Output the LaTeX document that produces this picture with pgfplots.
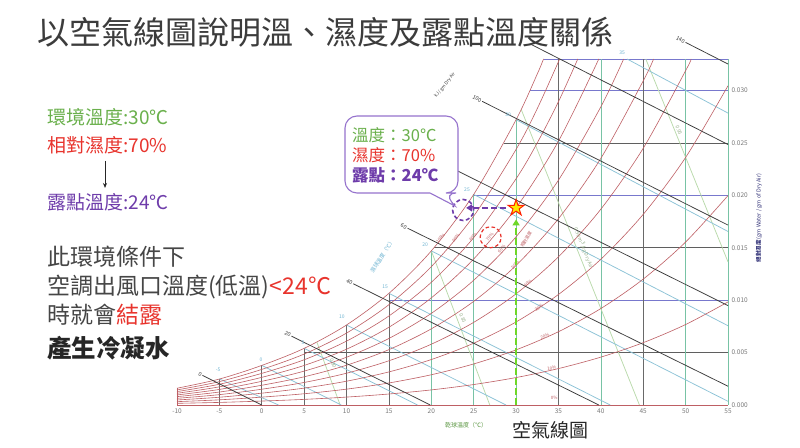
\documentclass[border=0pt]{standalone}
\usepackage{fontspec}
\usepackage{pgfplots}
\pgfplotsset{compat=1.18}
\usetikzlibrary{arrows.meta}
\setmainfont{Noto Sans CJK TC}

\definecolor{rhred}{RGB}{190,95,100}
\definecolor{enth}{RGB}{60,60,60}
\definecolor{wbblue}{RGB}{140,195,215}
\definecolor{wbtext}{RGB}{110,180,210}
\definecolor{volgreen}{RGB}{185,218,170}
\definecolor{vteal}{RGB}{120,195,165}
\definecolor{vgray}{RGB}{105,105,105}
\definecolor{hblue}{RGB}{120,120,205}
\definecolor{hgray}{RGB}{95,95,95}
\definecolor{ticgray}{RGB}{120,120,120}
\definecolor{txtgreen}{RGB}{106,176,76}
\definecolor{txtred}{RGB}{232,52,45}
\definecolor{txtpurple}{RGB}{110,60,170}
\definecolor{boxpurple}{RGB}{150,115,205}
\definecolor{titlegray}{RGB}{60,60,60}
\definecolor{darktxt}{RGB}{70,70,70}
\definecolor{arrgreen}{RGB}{110,215,40}
\definecolor{navy}{RGB}{50,50,120}

\pgfdeclareplotmark{fstar}{%
  \pgfpathmoveto{\pgfpoint{0pt}{1\pgfplotmarksize}}%
  \pgfpathlineto{\pgfpoint{-0.2245\pgfplotmarksize}{0.3090\pgfplotmarksize}}%
  \pgfpathlineto{\pgfpoint{-0.9511\pgfplotmarksize}{0.3090\pgfplotmarksize}}%
  \pgfpathlineto{\pgfpoint{-0.3633\pgfplotmarksize}{-0.1180\pgfplotmarksize}}%
  \pgfpathlineto{\pgfpoint{-0.5878\pgfplotmarksize}{-0.8090\pgfplotmarksize}}%
  \pgfpathlineto{\pgfpoint{0pt}{-0.382\pgfplotmarksize}}%
  \pgfpathlineto{\pgfpoint{0.5878\pgfplotmarksize}{-0.8090\pgfplotmarksize}}%
  \pgfpathlineto{\pgfpoint{0.3633\pgfplotmarksize}{-0.1180\pgfplotmarksize}}%
  \pgfpathlineto{\pgfpoint{0.9511\pgfplotmarksize}{0.3090\pgfplotmarksize}}%
  \pgfpathlineto{\pgfpoint{0.2245\pgfplotmarksize}{0.3090\pgfplotmarksize}}%
  \pgfpathclose
  \pgfusepathqfillstroke}

\pgfplotsset{
  rh/.style={rhred, line width=0.6pt, smooth},
  en/.style={enth, line width=0.75pt},
  wb/.style={wbblue, line width=0.75pt},
  vol/.style={volgreen, line width=0.75pt},
  vg/.style={vgray, line width=0.7pt},
  vt/.style={vteal, line width=0.7pt},
  hb/.style={hblue, line width=0.75pt},
  hg/.style={hgray, line width=0.75pt},
}

\begin{document}
\begin{tikzpicture}[x=1pt,y=1pt]
\useasboundingbox (0,0) rectangle (800,447);
\fill[white] (0,0) rectangle (800,447);

% title
\node[anchor=west, inner sep=0, text=titlegray, font=\fontsize{32}{34}\selectfont] at (37,415) {以空氣線圖說明溫、濕度及露點溫度關係};

% left texts
\node[anchor=west, inner sep=0, text=txtgreen, font=\fontsize{19}{21}\selectfont] at (47,330) {環境溫度:30℃};
\node[anchor=west, inner sep=0, text=txtred, font=\fontsize{19}{21}\selectfont] at (47,302) {相對濕度:70\%};
\draw[-{Stealth[length=5pt,width=4pt]}, line width=1pt, black!85] (105,286) -- (105,259);
\node[anchor=west, inner sep=0, text=txtpurple, font=\fontsize{19}{21}\selectfont] at (47,245) {露點溫度:24℃};
\node[anchor=west, inner sep=0, text=darktxt, font=\fontsize{23}{25}\selectfont] at (47,190) {此環境條件下};
\node[anchor=west, inner sep=0, text=darktxt, font=\fontsize{23}{25}\selectfont] at (47,160) {空調出風口溫度(低溫)\textcolor{txtred}{<24℃}};
\node[anchor=west, inner sep=0, text=darktxt, font=\fontsize{23}{25}\selectfont] at (47,132) {時就會\textcolor{txtred}{結露}};
\node[anchor=west, inner sep=0, text=black!85, font=\fontsize{24.5}{26}\selectfont\bfseries] at (47,99) {產生冷凝水};

\begin{axis}[at={(177pt,42pt)}, anchor=south west, scale only axis,
  width=551pt, height=346pt,
  xmin=-10, xmax=55, ymin=0, ymax=0.033, clip=false,
  axis line style={draw=none}, major tick length=0pt,
  xtick={-10,-5,0,5,10,15,20,25,30,35,40,45,50,55},
  xticklabels={-10,-5,0,5,10,15,20,25,30,35,40,45,50,55},
  ytick={0,0.005,0.01,0.015,0.02,0.025,0.03},
  yticklabels={0.000,0.005,0.010,0.015,0.020,0.025,0.030},
  yticklabel pos=right, scaled y ticks=false,
  tick label style={font=\fontsize{6.5}{7}\selectfont, text=ticgray},
]
% horizontal grid
\addplot[hg] coordinates {(5,0.005) (55,0.005)};
\addplot[hb] coordinates {(15,0.010) (55,0.010)};
\addplot[hg] coordinates {(20.3,0.015) (55,0.015)};
\addplot[hb] coordinates {(24.9,0.020) (55,0.020)};
\addplot[hg] coordinates {(28.6,0.025) (55,0.025)};
\addplot[hb] coordinates {(31.6,0.030) (55,0.030)};
\addplot[hb] coordinates {(33.24,0.033) (55,0.033)};
\addplot[rhred, line width=0.8pt] coordinates {(-10,0) (55,0)};
% vertical grid
\addplot[rhred, line width=0.6pt] coordinates {(-10,0) (-10,0.0016)};
\addplot[vg] coordinates {(-5,0) (-5,0.00248)};
\addplot[vg] coordinates {(0,0) (0,0.003775)};
\addplot[vg] coordinates {(5,0) (5,0.005403)};
\addplot[vg] coordinates {(10,0) (10,0.007632)};
\addplot[vg] coordinates {(15,0) (15,0.01065)};
\addplot[vt] coordinates {(20,0) (20,0.0147)};
\addplot[vt] coordinates {(25,0) (25,0.020086)};
\addplot[vt] coordinates {(30,0) (30,0.02721)};
\addplot[vg] coordinates {(35,0) (35,0.033)};
\addplot[vt] coordinates {(40,0) (40,0.033)};
\addplot[vg] coordinates {(45,0) (45,0.033)};
\addplot[vt] coordinates {(50,0) (50,0.033)};
\addplot[vt] coordinates {(55,0) (55,0.033)};

% specific volume lines
\addplot[vol] coordinates {(6.5,0.0060) (9.25,0)};
\addplot[vol] coordinates {(20.0,0.0147) (26.9,0)};
\addplot[vol] coordinates {(30.6,0.0282) (44.55,0)};
\addplot[vol] coordinates {(45.3,0.033) (55,0.01365)};

% wet bulb lines
\addplot[wb] coordinates {(-5,0.00248) (1.98,0)};
\addplot[wb] coordinates {(0,0.003775) (9.38,0)};
\addplot[wb] coordinates {(5,0.005403) (18.37,0)};
\addplot[wb] coordinates {(10,0.007632) (28.8,0)};
\addplot[wb] coordinates {(15,0.01065) (41.1,0)};
\addplot[wb] coordinates {(20,0.0147) (55,0.00035)};
\addplot[wb] coordinates {(25,0.020086) (55,0.00756)};
\addplot[wb] coordinates {(30,0.02721) (55,0.01655)};
\addplot[wb] coordinates {(43.1,0.033) (55,0.02784)};

% relative humidity curves
\addplot[rh] coordinates {(-10,0.000160) (-5,0.000247) (0,0.000375) (5,0.000536) (10,0.000755) (15,0.001049) (20,0.001439) (25,0.001952) (30,0.002618) (35,0.003475) (40,0.004567) (45,0.005946) (50,0.007676) (55,0.009829)};
\addplot[rh] coordinates {(-10,0.000319) (-5,0.000493) (0,0.000751) (5,0.001073) (10,0.001512) (15,0.002101) (20,0.002885) (25,0.003916) (30,0.005258) (35,0.006989) (40,0.009201) (45,0.012008) (50,0.015544) (55,0.019973)};
\addplot[rh] coordinates {(-10,0.000479) (-5,0.000740) (0,0.001128) (5,0.001611) (10,0.002270) (15,0.003157) (20,0.004338) (25,0.005893) (30,0.007920) (35,0.010542) (40,0.013904) (45,0.018187) (50,0.023611) (55,0.030448)};
\addplot[rh] coordinates {(-10,0.000638) (-5,0.000988) (0,0.001504) (5,0.002150) (10,0.003031) (15,0.004217) (20,0.005798) (25,0.007882) (30,0.010605) (35,0.014136) (40,0.018678) (45,0.024488) (50,0.031885) (50.65,0.033)};
\addplot[rh] coordinates {(-10,0.000798) (-5,0.001236) (0,0.001882) (5,0.002690) (10,0.003793) (15,0.005280) (20,0.007264) (25,0.009884) (30,0.013314) (35,0.017771) (40,0.023524) (45,0.030914) (46.22,0.033)};
\addplot[rh] coordinates {(-10,0.000958) (-5,0.001484) (0,0.002259) (5,0.003231) (10,0.004557) (15,0.006347) (20,0.008737) (25,0.011898) (30,0.016045) (35,0.021448) (40,0.028444) (42.69,0.033)};
\addplot[rh] coordinates {(-10,0.001118) (-5,0.001733) (0,0.002637) (5,0.003772) (10,0.005323) (15,0.007417) (20,0.010217) (25,0.013926) (30,0.018800) (35,0.025167) (39.76,0.033)};
\addplot[rh] coordinates {(-10,0.001278) (-5,0.001981) (0,0.003016) (5,0.004315) (10,0.006091) (15,0.008491) (20,0.011704) (25,0.015966) (30,0.021579) (32.5,0.025003) (35,0.028930) (37.28,0.033)};
\addplot[rh] coordinates {(-10,0.001438) (-5,0.002228) (0,0.003395) (5,0.004859) (10,0.006861) (15,0.009569) (20,0.013198) (25,0.018020) (30,0.024382) (32.5,0.028270) (35.14,0.033)};
\addplot[rh] coordinates {(-10,0.001600) (-5,0.002476) (0,0.003775) (5,0.005403) (10,0.007632) (15,0.010650) (20,0.014699) (25,0.020086) (30,0.027210) (32.5,0.031571) (33.24,0.033)};

% enthalpy lines
\addplot[en] coordinates {(-7.0,0.00283) (0,0)};
\addplot[en] coordinates {(3.5,0.00657) (19.88,0)};
\addplot[en] coordinates {(10.8,0.01156) (39.76,0)};
\addplot[en] coordinates {(17.2,0.01686) (55,0.00179)};
\addplot[en] coordinates {(21.5,0.02297) (55,0.00948)};
\addplot[en] coordinates {(26.0,0.02896) (55,0.01716)};
\addplot[en] coordinates {(31.8,0.03438) (55,0.02484)};
\addplot[en] coordinates {(50.0,0.03458) (55,0.03252)};

% enthalpy labels
\begin{scope}[every node/.style={font=\fontsize{5.5}{6}\selectfont, text=enth, rotate=-27, anchor=east, inner sep=1pt}]
\node at (axis cs:-7.0,0.00283) {0};
\node at (axis cs:3.5,0.00657) {20};
\node at (axis cs:10.8,0.01156) {40};
\node at (axis cs:17.2,0.01686) {60};
\node at (axis cs:26.0,0.02896) {100};
\node at (axis cs:50.0,0.03458) {140};
\end{scope}
\node[font=\fontsize{4.5}{5}\selectfont, text=enth, rotate=52] at (axis cs:21.6,0.0305) {kJ / gm Dry Air};

% wet bulb labels
\begin{scope}[every node/.style={font=\fontsize{5}{5}\selectfont, text=wbtext, inner sep=0.5pt}]
\node at (axis cs:-5.16,0.00334) {-5};
\node at (axis cs:-0.09,0.00429) {0};
\node at (axis cs:4.86,0.00591) {5};
\node at (axis cs:9.46,0.00839) {10};
\node at (axis cs:14.54,0.01125) {15};
\node at (axis cs:19.26,0.01526) {20};
\node at (axis cs:24.21,0.0205) {25};
\node at (axis cs:29.05,0.02766) {30};
\node at (axis cs:42.5,0.03357) {35};
\end{scope}
\node[font=\fontsize{5.5}{6}\selectfont, text=wbtext, rotate=57] at (axis cs:14.2,0.0142) {濕球溫度（℃）};

% volume labels
\begin{scope}[every node/.style={font=\fontsize{5}{5}\selectfont, text=volgreen!80!black, rotate=-68, inner sep=0.5pt}]
\node at (axis cs:8.4,0.0040) {0.80};
\node at (axis cs:23.7,0.0083) {0.85};
\node at (axis cs:38.0,0.0150) {0.90 m\textsuperscript{3}/kg Dry Air};
\node at (axis cs:49.2,0.0262) {0.95};
\end{scope}

% RH labels
\begin{scope}[every node/.style={font=\fontsize{4.5}{5}\selectfont, text=rhred, inner sep=0.3pt}]
\node[rotate=0] at (axis cs:34.5,0.0007) {0\%};
\node[rotate=12] at (axis cs:34.2,0.0035) {10\%};
\node[rotate=23] at (axis cs:33.4,0.0066) {20\%};
\node[rotate=33] at (axis cs:32.7,0.0093) {30\%};
\node[rotate=41] at (axis cs:31.4,0.0116) {40\%};
\node[rotate=48] at (axis cs:29.9,0.0134) {50\%};
\node[rotate=50] at (axis cs:28.3,0.0149) {60\%};
\node[rotate=50] at (axis cs:26.9,0.0160) {70\%};
\node[rotate=51] at (axis cs:24.9,0.0160) {80\%};
\node[rotate=51] at (axis cs:22.9,0.0159) {90\%};
\node[rotate=51] at (axis cs:21.1,0.0159) {100\%};
\node[rotate=60] at (axis cs:31.2,0.0158) {相對濕度};
\end{scope}

% annotations
\addplot[arrgreen, line width=2.2pt, dash pattern=on 7pt off 3pt, -{Triangle[length=6pt,width=7pt]}] coordinates {(30,0) (30,0.0177)};
\addplot[txtpurple, line width=2.2pt, dash pattern=on 6pt off 3pt, -{Triangle[length=6pt,width=7pt]}] coordinates {(28.8,0.0188) (24.1,0.0188)};
\addplot[only marks, mark=o, mark size=10.5pt, mark options={draw=txtpurple, dash pattern=on 4pt off 2.5pt, line width=1.6pt}] coordinates {(23.75,0.0186)};
\addplot[only marks, mark=o, mark size=10.5pt, mark options={draw=txtred, dash pattern=on 3.5pt off 2.5pt, line width=1.2pt}] coordinates {(27.0,0.0160)};
\addplot[only marks, mark=fstar, mark size=8.5pt, mark options={fill=yellow!90!orange, draw=red!75!orange, line width=1pt}] coordinates {(30,0.0188)};
\end{axis}

% axis titles outside
\node[rotate=90, font=\fontsize{5.5}{6}\selectfont, text=navy] at (759,229) {\textbf{絕對濕度} (gm Water / gm of Dry Air)};
\node[font=\fontsize{6}{6}\selectfont, text=txtgreen!85!black] at (466,22) {乾球溫度（℃）};
\node[font=\fontsize{19}{20}\selectfont, text=black!85] at (550,17) {空氣線圖};

% callout
\draw[boxpurple, line width=1.1pt, fill=white, rounded corners=12pt]
  (345,331) -- (458,331) -- (458,254) -- (444,254) [sharp corners] -- (455,241) -- (430,254) [rounded corners=12pt] -- (345,254) -- cycle;
\node[anchor=west, inner sep=0, text=txtgreen, font=\fontsize{16.5}{18}\selectfont] at (352,312) {溫度：30℃};
\node[anchor=west, inner sep=0, text=txtred, font=\fontsize{16.5}{18}\selectfont] at (352,292) {濕度：70\%};
\node[anchor=west, inner sep=0, text=txtpurple, font=\fontsize{16.5}{18}\selectfont\bfseries] at (352,272) {露點：24℃};
\end{tikzpicture}
\end{document}
